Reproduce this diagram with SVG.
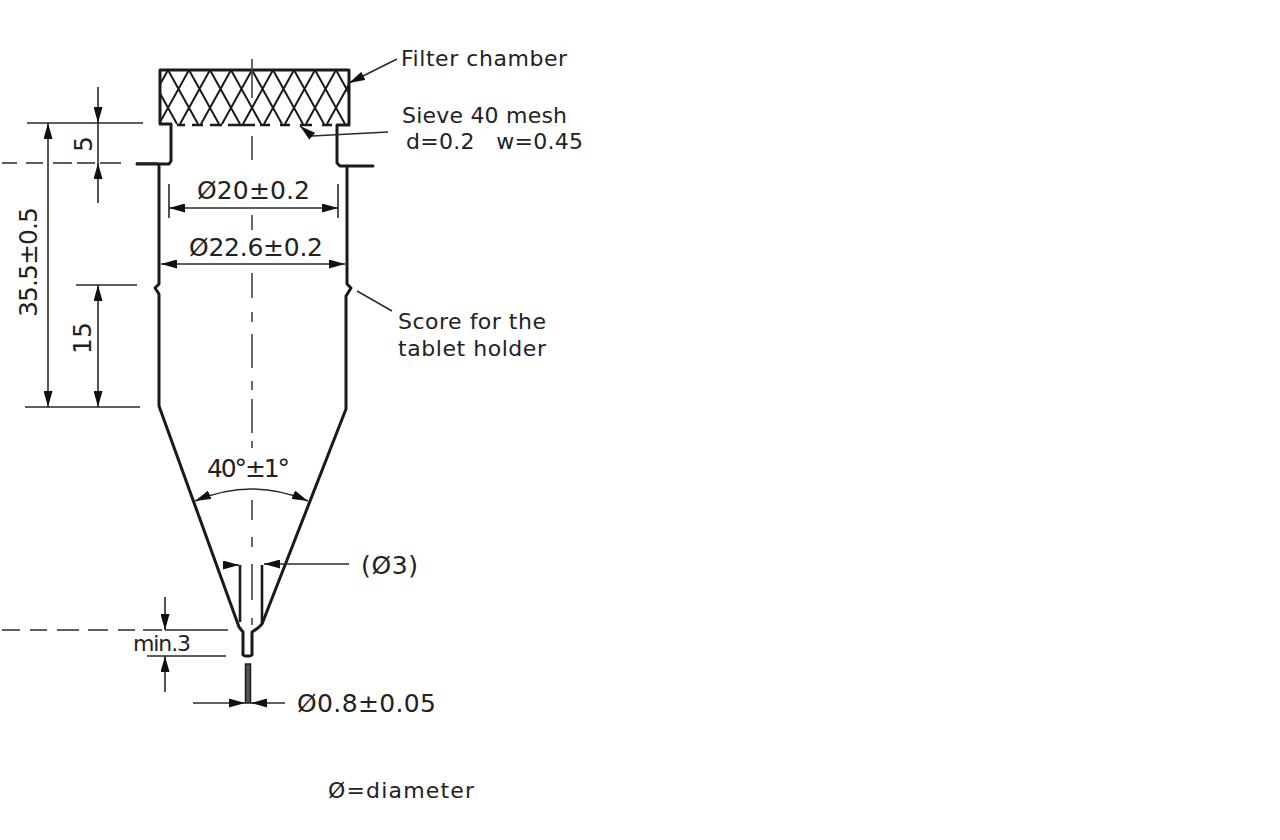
<svg xmlns="http://www.w3.org/2000/svg" width="1280" height="840" viewBox="0 0 1280 840">
<style>
.o{fill:none;stroke:#1a1a1a;stroke-width:3;stroke-linejoin:round;stroke-linecap:round}
.m{fill:none;stroke:#1a1a1a;stroke-width:2.6}
.d{fill:none;stroke:#2a2a2a;stroke-width:1.6}
.c{fill:none;stroke:#444;stroke-width:1.6}
.h{fill:none;stroke:#1a1a1a;stroke-width:2}
text{font-family:"DejaVu Sans","Noto Sans",sans-serif;fill:#222;font-size:22px}
.n{font-size:25px}
</style>
<defs>
<marker id="a" viewBox="0 0 16 9" refX="16" refY="4.500" markerWidth="16" markerHeight="9" markerUnits="userSpaceOnUse" orient="auto-start-reverse"><path d="M0 0L16 4.500L0 9z" fill="#111"/></marker>
<clipPath id="box"><rect x="160" y="70" width="189" height="55"/></clipPath>
</defs>
<rect width="1280" height="840" fill="#fff"/>
<g id="filter-chamber">
<path class="h" clip-path="url(#box)" d="M147 70l30 54M168 70l30 54M189 70l30 54M210 70l30 54M231 70l30 54M252 70l30 54M273 70l30 54M294 70l30 54M315 70l30 54M336 70l30 54M168 70l-30 54M189 70l-30 54M210 70l-30 54M231 70l-30 54M252 70l-30 54M273 70l-30 54M294 70l-30 54M315 70l-30 54M336 70l-30 54M357 70l-30 54M378 70l-30 54"/>
<path class="m" d="M177 125H185M192 125H203M210 125H222M228 125H255M260 125H270M280 125H290M300 125H312M322 125H332"/>
</g>
<g id="body">
<path class="o" d="M160 124V70H349V125H337V163L340 166H373M160 124H171V161L169 164H137M159 166V284L155 288L159 294V406L239 627L243 632V655L245 656H250L252 655V632L258 628L262 624L346 409V296L351 288L347 284V166"/>
</g>
<g id="tube">
<path class="m" d="M240 565V622M262 565V624"/>
<rect x="245.500" y="664" width="5" height="39" fill="#555" stroke="#1a1a1a" stroke-width="1.500"/>
</g>
<g id="connectors">
<path class="c" d="M252 59V98M252 136V160M252 215V230M252 273V298M252 312V322M252 334V368M252 381V390M252 399V433M252 441V448M252 500V520M252 537V547M252 564V600M252 618V625"/>
<path class="d" d="M27 123H143M25 407H140M76 285H137M147 656H226"/>
<path class="d" stroke-width="2" d="M2 163H17M26 163H43M53 163H72M77 163H95M100 163H121M136 163H158M2 630H20M30 630H47M57 630H79M88 630H108M118 630H135M143 630H162M165 630H228"/>
<path class="d" d="M98 87V123" marker-end="url(#a)"/>
<path class="d" d="M98 123V163"/>
<path class="d" d="M98 203V163" marker-end="url(#a)"/>
<path class="d" d="M48 123V407" marker-start="url(#a)" marker-end="url(#a)"/>
<path class="d" d="M98 285V407" marker-start="url(#a)" marker-end="url(#a)"/>
<path class="d" d="M169 184V218M338 184V218"/>
<path class="d" d="M169 208H338" marker-start="url(#a)" marker-end="url(#a)"/>
<path class="d" d="M161 264H345" marker-start="url(#a)" marker-end="url(#a)"/>
<path class="d" d="M195 501Q252 477 308 501" marker-start="url(#a)" marker-end="url(#a)"/>
<path class="d" d="M165 597V630" marker-end="url(#a)"/>
<path class="d" d="M165 692V656" marker-end="url(#a)"/>
<path class="d" d="M193 703H245" marker-end="url(#a)"/>
<path class="d" d="M285 703H251" marker-end="url(#a)"/>
<path class="d" d="M224 565H239" marker-end="url(#a)"/>
<path class="d" d="M349 564H264" marker-end="url(#a)"/>
<path class="d" d="M397 59L349 83" marker-end="url(#a)"/>
<path class="d" d="M388 132L312 136"/>
<path class="d" d="M312 136L300 126" marker-end="url(#a)"/>
<path class="d" d="M357 291L392 311"/>
</g>
<g id="labels">
<text x="401" y="66" textLength="166">Filter chamber</text>
<text x="402" y="123" textLength="165">Sieve 40 mesh</text>
<text x="406" y="149" textLength="177" xml:space="preserve">d=0.2   w=0.45</text>
<text x="398" y="329" textLength="148">Score for the</text>
<text x="398" y="356" textLength="148">tablet holder</text>
<text class="n" x="197" y="199" textLength="113">Ø20±0.2</text>
<text class="n" x="189" y="256" textLength="134">Ø22.6±0.2</text>
<text class="n" x="207" y="477" textLength="83">40°±1°</text>
<text class="n" x="361" y="574" textLength="57">(Ø3)</text>
<text x="133" y="651" font-size="19" textLength="58">min.3</text>
<text class="n" x="297" y="712" textLength="139">Ø0.8±0.05</text>
<text x="328" y="798" font-size="24" textLength="146">Ø=diameter</text>
<text class="n" transform="translate(37 317) rotate(-90)" textLength="110">35.5±0.5</text>
<text class="n" transform="translate(92 152) rotate(-90)">5</text>
<text class="n" transform="translate(91 354) rotate(-90)">15</text>
</g>
</svg>
